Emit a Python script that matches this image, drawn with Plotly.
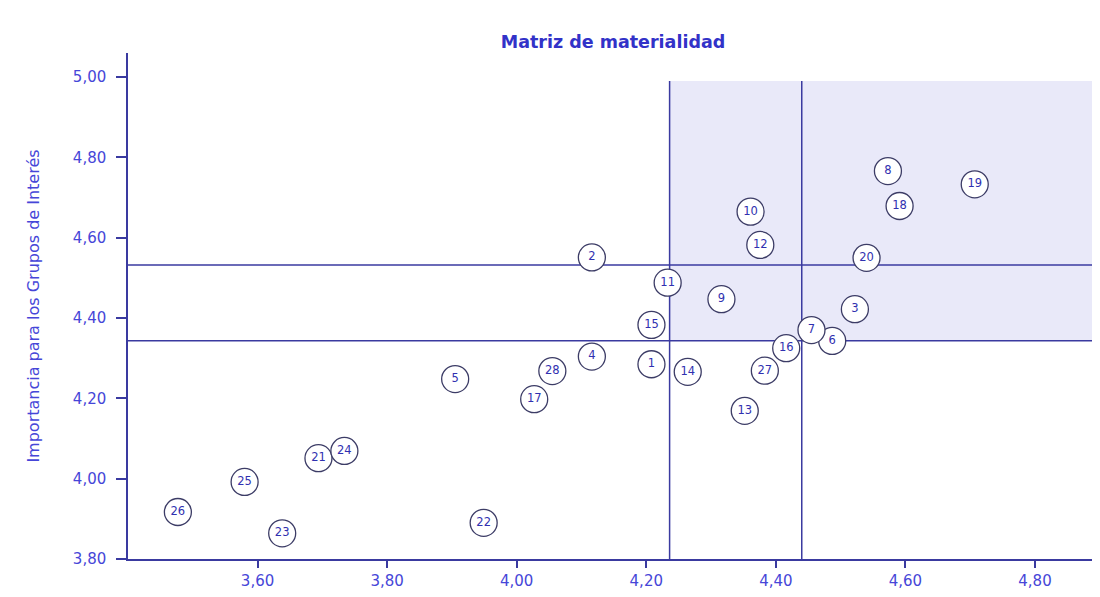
import plotly.graph_objects as go

# Data: topic number, x = importance for the company, y = importance for stakeholders
labels = ["1", "2", "3", "4", "5", "6", "7", "8", "9", "10",
          "11", "12", "13", "14", "15", "16", "17", "18", "19", "20",
          "21", "22", "23", "24", "25", "26", "27", "28"]
x_vals = [4.208, 4.116, 4.522, 4.116, 3.905, 4.487, 4.455, 4.573, 4.316, 4.361,
          4.233, 4.376, 4.352, 4.264, 4.208, 4.416, 4.027, 4.591, 4.707, 4.540,
          3.694, 3.949, 3.638, 3.734, 3.580, 3.477, 4.383, 4.055]
y_vals = [4.285, 4.551, 4.422, 4.304, 4.248, 4.343, 4.370, 4.766, 4.447, 4.665,
          4.488, 4.582, 4.169, 4.266, 4.383, 4.325, 4.198, 4.679, 4.733, 4.550,
          4.051, 3.890, 3.864, 4.069, 3.992, 3.917, 4.269, 4.268]

x_thresholds = [4.236, 4.440]
y_thresholds = [4.3435, 4.532]
x_ticks = [3.6, 3.8, 4.0, 4.2, 4.4, 4.6, 4.8]
y_ticks = [3.8, 4.0, 4.2, 4.4, 4.6, 4.8, 5.0]
x_range = [3.40, 4.888]
y_range = [3.80, 5.06]
shade_top = 4.99

title_text = "Matriz de materialidad"
y_title = "Importancia para los Grupos de Interés"

line_col = "#3a3aa0"
text_col = "#4646d8"

# page body has an 8px margin; size the figure so the page does not overflow
W, H = 1084, 581

fig = go.Figure()
fig.add_trace(go.Scatter(
    x=x_vals, y=y_vals, text=labels, mode="markers+text",
    textposition="middle center",
    textfont=dict(family="DejaVu Sans", size=11.5, color="#3030b0"),
    marker=dict(symbol="circle", size=27, color="white",
                line=dict(color="#3c3c66", width=1.3)),
    hoverinfo="skip", showlegend=False,
))

shapes = []
# shaded material zone
shapes.append(dict(type="rect", xref="x", yref="y", layer="below",
                   x0=x_thresholds[0], x1=x_range[1], y0=y_thresholds[0], y1=shade_top,
                   fillcolor="#e9e9f9", line=dict(width=0)))
for yv in y_thresholds:
    shapes.append(dict(type="line", xref="x", yref="y", layer="below",
                       x0=x_range[0], x1=x_range[1], y0=yv, y1=yv,
                       line=dict(color=line_col, width=1.5)))
for xv in x_thresholds:
    shapes.append(dict(type="line", xref="x", yref="y", layer="below",
                       x0=xv, x1=xv, y0=y_range[0], y1=shade_top,
                       line=dict(color=line_col, width=1.5)))

fig.update_layout(
    width=W, height=H,
    margin=dict(l=120, r=0, t=45, b=30),
    paper_bgcolor="white", plot_bgcolor="white",
    separators=",.",
    shapes=shapes,
    title=dict(text=title_text, x=605 / W, xanchor="center",
               y=1 - 34 / H, yanchor="middle",
               font=dict(family="DejaVu Sans", size=17.5, color="#3232c8", weight="bold")),
    xaxis=dict(range=x_range, tickvals=x_ticks, tickformat=".2f",
               showgrid=False, zeroline=False, showline=True,
               linecolor=line_col, linewidth=1.5,
               ticks="outside", ticklen=7, tickcolor=line_col, tickwidth=1.5,
               tickfont=dict(family="DejaVu Sans", size=15, color=text_col)),
    yaxis=dict(range=y_range, tickvals=y_ticks, tickformat=".2f",
               showgrid=False, zeroline=False, showline=True,
               linecolor=line_col, linewidth=1.5,
               ticks="outside", ticklen=10, tickcolor=line_col, tickwidth=1.5,
               ticklabelstandoff=7,
               tickfont=dict(family="DejaVu Sans", size=15, color=text_col),
               title=dict(text=y_title, standoff=29,
                          font=dict(family="DejaVu Sans", size=16, color=text_col))),
)

fig.write_html("out.html")
